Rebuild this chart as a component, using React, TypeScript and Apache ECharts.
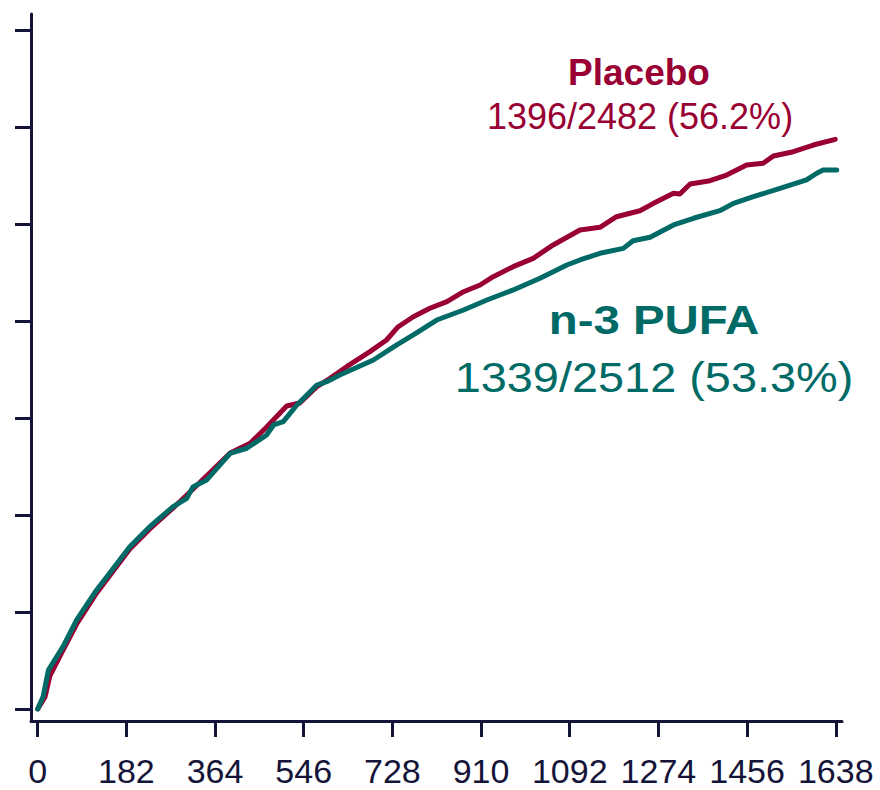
import React, { useEffect, useRef } from "react";
import * as echarts from "echarts";

const xTickValues = [0, 182, 364, 546, 728, 910, 1092, 1274, 1456, 1638];
const yTickValues = [0, 10, 20, 30, 40, 50, 60, 70];

const placeboDays = [0, 15, 25, 52, 80, 121, 189, 230, 278, 319, 395, 436, 470, 511, 538, 573, 600, 634, 682, 716, 740, 771, 805, 840, 874, 908, 935, 976, 1017, 1058, 1113, 1154, 1188, 1236, 1264, 1305, 1318, 1339, 1380, 1414, 1455, 1489, 1510, 1551, 1592, 1637];
const placeboRate = [0, 1.24, 3.4, 6.08, 8.76, 11.96, 16.49, 18.56, 20.72, 22.68, 26.39, 27.39, 29.07, 31.24, 31.55, 33.23, 34.09, 35.29, 36.84, 38.04, 39.41, 40.44, 41.31, 41.99, 43.02, 43.71, 44.57, 45.6, 46.46, 47.84, 49.38, 49.66, 50.75, 51.37, 52.13, 53.16, 53.09, 54.12, 54.46, 55.05, 56.08, 56.26, 57.01, 57.45, 58.14, 58.73];

const pufaDays = [0, 11, 22, 52, 80, 121, 142, 189, 230, 278, 306, 319, 347, 395, 429, 470, 484, 504, 532, 573, 593, 620, 689, 737, 771, 819, 874, 922, 976, 1031, 1086, 1113, 1154, 1202, 1222, 1257, 1305, 1346, 1400, 1428, 1469, 1517, 1578, 1599, 1612, 1640];
const pufaRate = [0, 1.27, 4.02, 6.42, 9.18, 12.27, 13.64, 16.73, 18.79, 20.86, 21.72, 22.92, 23.61, 26.36, 26.88, 28.25, 29.28, 29.62, 31.34, 33.4, 33.74, 34.43, 35.98, 37.53, 38.56, 40.1, 41.13, 42.16, 43.2, 44.4, 45.77, 46.29, 46.98, 47.49, 48.28, 48.63, 49.9, 50.59, 51.37, 52.13, 52.81, 53.58, 54.54, 55.23, 55.57, 55.57];

const placeboColor = "#990033";
const pufaColor = "#006b66";
const axisColor = "#141438";
const fontFamily = "'Liberation Sans', Arial, sans-serif";

export default function App() {
  const ref = useRef<HTMLDivElement>(null);
  useEffect(() => {
    if (!ref.current) return;
    const chart = echarts.init(ref.current, null, { renderer: "svg" });
    const zip = (xs: number[], ys: number[]) => xs.map((x, i) => [x, ys[i]]);
    chart.setOption({
      animation: false,
      backgroundColor: "#ffffff",
      grid: { left: 31, right: 38, top: 14, bottom: 69 },
      xAxis: {
        type: "value",
        min: -13.75,
        max: 1650.8,
        splitLine: { show: false },
        axisLine: { onZero: false, lineStyle: { color: axisColor, width: 3 } },
        axisTick: { length: 16, lineStyle: { color: axisColor, width: 3 }, customValues: xTickValues },
        axisLabel: {
          customValues: xTickValues,
          formatter: (v: number) => String(v),
          margin: 33,
          color: axisColor,
          fontSize: 34,
          lineHeight: 34,
          fontFamily,
        },
      },
      yAxis: {
        type: "value",
        min: -1.24,
        max: 71.65,
        splitLine: { show: false },
        axisLine: { onZero: false, lineStyle: { color: axisColor, width: 3 } },
        axisTick: { length: 16, lineStyle: { color: axisColor, width: 3 }, customValues: yTickValues },
        axisLabel: { show: false },
      },
      series: [
        {
          name: "Placebo",
          type: "line",
          data: zip(placeboDays, placeboRate),
          showSymbol: false,
          lineStyle: { color: placeboColor, width: 5, join: "round", cap: "round" },
          itemStyle: { color: placeboColor },
        },
        {
          name: "n-3 PUFA",
          type: "line",
          data: zip(pufaDays, pufaRate),
          showSymbol: false,
          lineStyle: { color: pufaColor, width: 5, join: "round", cap: "round" },
          itemStyle: { color: pufaColor },
        },
      ],
      graphic: [
        {
          type: "text",
          x: 639,
          y: 72.2,
          style: { text: "Placebo", fill: placeboColor, font: `bold 37px ${fontFamily}`, align: "center", verticalAlign: "middle" },
        },
        {
          type: "text",
          x: 640,
          y: 116.2,
          style: { text: "1396/2482 (56.2%)", fill: placeboColor, font: `36px ${fontFamily}`, align: "center", verticalAlign: "middle" },
        },
        {
          type: "text",
          x: 654,
          y: 320,
          scaleX: 1.155,
          style: { text: "n-3 PUFA", fill: pufaColor, font: `bold 41px ${fontFamily}`, align: "center", verticalAlign: "middle" },
        },
        {
          type: "text",
          x: 654,
          y: 376.8,
          scaleX: 1.09,
          style: { text: "1339/2512 (53.3%)", fill: pufaColor, font: `43px ${fontFamily}`, align: "center", verticalAlign: "middle" },
        },
      ],
    });
    return () => chart.dispose();
  }, []);
  return <div ref={ref} style={{ width: 880, height: 790, position: "absolute", left: 0, top: 0 }} />;
}
